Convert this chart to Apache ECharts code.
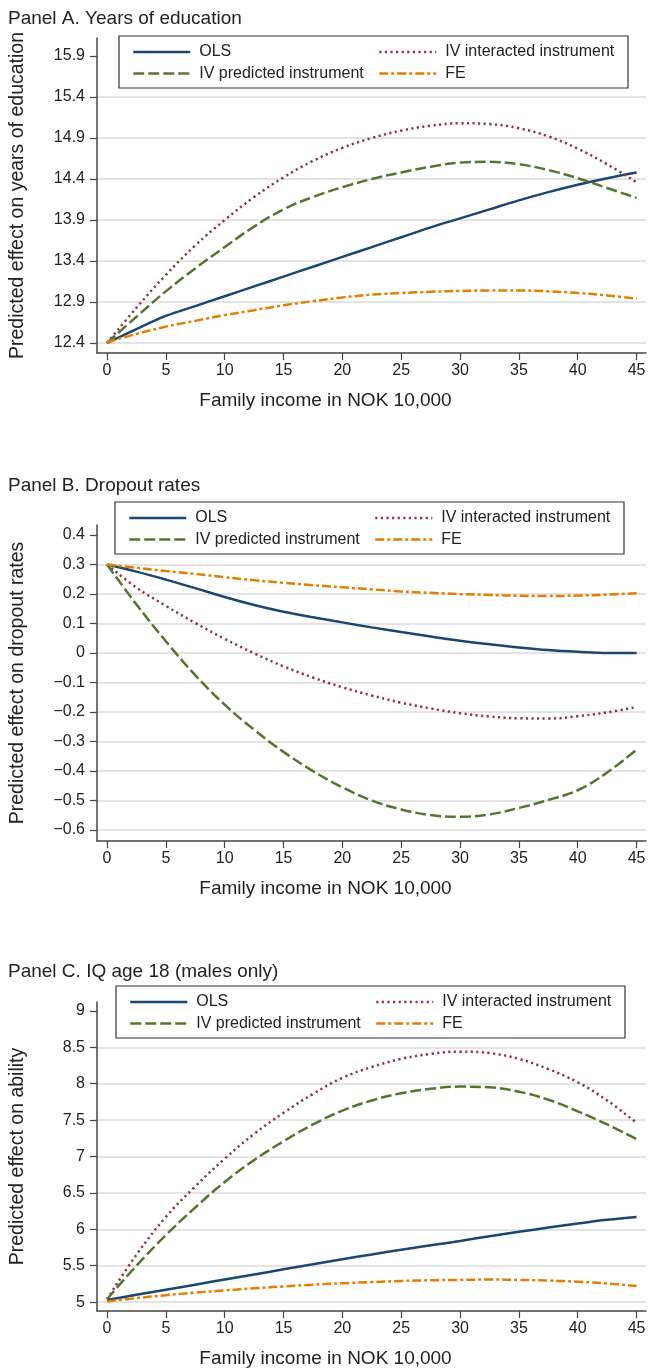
<!DOCTYPE html>
<html><head><meta charset="utf-8">
<script src="https://cdn.jsdelivr.net/npm/echarts@6/dist/echarts.min.js"></script>
<style>html,body{margin:0;padding:0;background:#fff}#c{width:649px;height:1369px}</style>
</head><body><div id="c"></div>
<script>
// ---------- data ----------
const incomeX = [0,2.5,5,7.5,10,12.5,15,17.5,20,22.5,25,27.5,30,32.5,35,37.5,40,42.5,45];
const xTicks = [0,5,10,15,20,25,30,35,40,45];
const xTickLabels = ['0','5','10','15','20','25','30','35','40','45'];
const seriesNames = ['OLS','IV interacted instrument','IV predicted instrument','FE'];
const panelTitles = ['Panel A. Years of education','Panel B. Dropout rates','Panel C. IQ age 18 (males only)'];
const yTitles = ['Predicted effect on years of education','Predicted effect on dropout rates','Predicted effect on ability'];
const xTitle = 'Family income in NOK 10,000';

// Panel A: years of education
const olsA     = [12.40,12.57,12.73,12.85,12.97,13.09,13.21,13.33,13.45,13.57,13.69,13.81,13.92,14.03,14.14,14.24,14.33,14.41,14.48];
const ivIntA   = [12.40,12.83,13.23,13.59,13.90,14.18,14.42,14.62,14.78,14.90,14.99,15.05,15.08,15.07,15.02,14.92,14.77,14.58,14.36];
const ivPredA  = [12.40,12.72,13.03,13.31,13.57,13.82,14.03,14.18,14.30,14.40,14.48,14.55,14.60,14.61,14.58,14.51,14.41,14.29,14.17];
const feA      = [12.41,12.51,12.60,12.67,12.74,12.80,12.86,12.91,12.955,12.99,13.01,13.025,13.035,13.04,13.04,13.03,13.01,12.98,12.94];
const yTicksA  = [12.4,12.9,13.4,13.9,14.4,14.9,15.4,15.9];
const yLabelsA = ['12.4','12.9','13.4','13.9','14.4','14.9','15.4','15.9'];

// Panel B: dropout rates
const olsB     = [0.300,0.276,0.249,0.220,0.190,0.163,0.140,0.121,0.104,0.087,0.071,0.056,0.042,0.030,0.019,0.010,0.004,0.000,0.000];
const ivIntB   = [0.300,0.222,0.160,0.102,0.048,-0.001,-0.045,-0.083,-0.116,-0.144,-0.168,-0.188,-0.204,-0.215,-0.221,-0.222,-0.214,-0.201,-0.183];
const ivPredB  = [0.300,0.165,0.040,-0.075,-0.175,-0.260,-0.335,-0.400,-0.455,-0.500,-0.530,-0.549,-0.555,-0.547,-0.525,-0.498,-0.465,-0.405,-0.327];
const feB      = [0.300,0.289,0.278,0.268,0.257,0.247,0.238,0.230,0.223,0.216,0.209,0.204,0.200,0.197,0.194,0.193,0.195,0.198,0.203];
const yTicksB  = [-0.6,-0.5,-0.4,-0.3,-0.2,-0.1,0,0.1,0.2,0.3,0.4];
const yLabelsB = ['\u22120.6','\u22120.5','\u22120.4','\u22120.3','\u22120.2','\u22120.1','0','0.1','0.2','0.3','0.4'];

// Panel C: ability
const olsC     = [5.03,5.10,5.17,5.24,5.31,5.38,5.45,5.52,5.59,5.655,5.72,5.78,5.84,5.905,5.965,6.025,6.08,6.13,6.17];
const ivIntC   = [5.04,5.65,6.17,6.59,6.97,7.31,7.60,7.86,8.08,8.23,8.34,8.41,8.44,8.42,8.34,8.20,8.02,7.77,7.46];
const ivPredC  = [5.04,5.50,5.92,6.30,6.65,6.95,7.21,7.44,7.63,7.77,7.87,7.93,7.96,7.95,7.89,7.78,7.62,7.44,7.24];
const feC      = [5.01,5.055,5.095,5.13,5.16,5.19,5.215,5.24,5.26,5.275,5.29,5.30,5.305,5.31,5.305,5.295,5.28,5.255,5.22];
const yTicksC  = [5,5.5,6,6.5,7,7.5,8,8.5,9];
const yLabelsC = ['5','5.5','6','6.5','7','7.5','8','8.5','9'];

// ---------- layout / style ----------
const FONT = '"Liberation Sans", Arial, Helvetica, sans-serif';
const TXT = '#222';
const AX = '#444';
const panels = [
  {top:38,  height:315, ymin:12.278, ymax:16.12, ticks:yTicksA, labels:yLabelsA, data:[olsA,ivIntA,ivPredA,feA], titleTop:9,   box:[119,36]},
  {top:525, height:316, ymin:-0.637, ymax:0.434, ticks:yTicksB, labels:yLabelsB, data:[olsB,ivIntB,ivPredB,feB], titleTop:476, box:[115,502]},
  {top:1002,height:314, ymin:4.878,  ymax:9.122, ticks:yTicksC, labels:yLabelsC, data:[olsC,ivIntC,ivPredC,feC], titleTop:962, box:[116,986]}
];
const styles = [
  {color:'#1a476f', type:'solid'},
  {color:'#90353b', type:[2.2,3.4]},
  {color:'#55752f', type:[11,4]},
  {color:'#e37e00', type:[9,3,3,3]}
];

function labelFor(ticks, labels){
  return function(v){
    for (let i=0;i<ticks.length;i++){ if (Math.abs(ticks[i]-v)<1e-6) return labels[i]; }
    return '';
  };
}

const grid=[], xAxis=[], yAxis=[], series=[], title=[], legend=[], graphic=[];
panels.forEach((p,pi)=>{
  grid.push({left:97, right:3, top:p.top, height:p.height, containLabel:false});
  title.push({text:panelTitles[pi], left:8, top:p.titleTop, padding:0,
    textStyle:{fontFamily:FONT, fontSize:19, fontWeight:'normal', color:TXT}});
  xAxis.push({type:'value', gridIndex:pi, min:-0.85, max:45.8,
    name:xTitle, nameLocation:'middle', nameGap:38,
    nameTextStyle:{fontFamily:FONT, fontSize:19, color:TXT, padding:[0,92,0,0]},
    axisLine:{show:true, onZero:false, lineStyle:{color:AX, width:1.5}},
    axisTick:{show:true, length:7, customValues:xTicks, lineStyle:{color:AX, width:1.2}},
    axisLabel:{customValues:xTicks, margin:10, fontFamily:FONT, fontSize:16, color:TXT,
      formatter:labelFor(xTicks, xTickLabels)},
    splitLine:{show:false}});
  const gridColors = p.ticks.map((t,i)=> i===p.ticks.length-1 ? 'rgba(0,0,0,0)' : '#dadada');
  yAxis.push({type:'value', gridIndex:pi, min:p.ymin, max:p.ymax,
    name:yTitles[pi], nameLocation:'middle', nameGap:69, nameRotate:90,
    nameTextStyle:{fontFamily:FONT, fontSize:19.5, color:TXT},
    axisLine:{show:true, onZero:false, lineStyle:{color:AX, width:1.5}},
    axisTick:{show:true, length:7, customValues:p.ticks, lineStyle:{color:AX, width:1.2}},
    axisLabel:{customValues:p.ticks, margin:12, fontFamily:FONT, fontSize:16, color:TXT,
      formatter:labelFor(p.ticks, p.labels)},
    splitLine:{show:true, lineStyle:{color:gridColors, width:1.5}}});
  p.data.forEach((vals,si)=>{
    series.push({type:'line', name:seriesNames[si], xAxisIndex:pi, yAxisIndex:pi,
      data: incomeX.map((x,i)=>[x, vals[i]]),
      smooth:0.4, symbol:'none', showSymbol:false, silent:true,
      lineStyle:{color:styles[si].color, width:2.5, type:styles[si].type},
      itemStyle:{color:styles[si].color}, z:3});
  });
  const [L,T] = p.box;
  graphic.push({type:'rect', shape:{x:L, y:T, width:509, height:52},
    style:{fill:'#fff', stroke:'#333', lineWidth:1.2}, z:100});
  const pos = [[L+13,T+8],[L+259,T+8],[L+13,T+29.5],[L+259,T+29.5]];
  seriesNames.forEach((nm,si)=>{
    legend.push({data:[nm], left:pos[si][0], top:pos[si][1], padding:0,
      itemWidth:57, itemHeight:16, selectedMode:false, z:200,
      itemStyle:{color:'rgba(0,0,0,0)', borderColor:'rgba(0,0,0,0)', borderWidth:0, opacity:0},
      lineStyle:{width:2.5, type:styles[si].type, color:styles[si].color, opacity:1},
      textStyle:{fontFamily:FONT, fontSize:16, color:TXT, padding:[0,0,0,4]}});
  });
});

const chart = echarts.init(document.getElementById('c'), null, {renderer:'canvas'});
chart.setOption({animation:false, backgroundColor:'#fff',
  title, grid, xAxis, yAxis, series, legend, graphic:{elements:graphic}});
</script>
</body></html>
